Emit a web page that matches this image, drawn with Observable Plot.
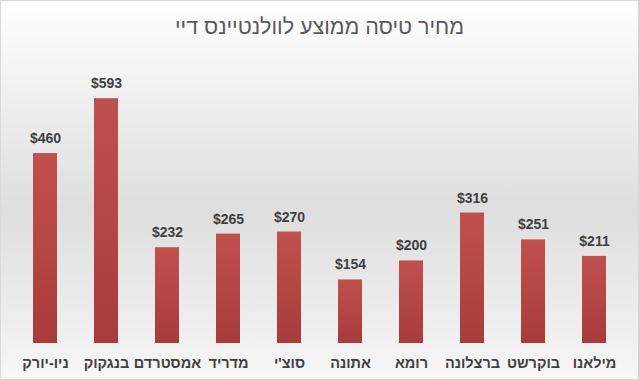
<!DOCTYPE html>
<html><head><meta charset="utf-8">
<script src="https://cdn.jsdelivr.net/npm/d3@7"></script>
<script src="https://cdn.jsdelivr.net/npm/@observablehq/plot@0.6"></script>
<style>
body{margin:0;background:#fff;}
#wrap{width:637px;height:378px;border:1px solid #d9d9d9;position:relative;overflow:hidden;
 background:linear-gradient(to bottom,#ffffff 0%,#f0f0f0 25%,#dedede 55%,#eeeeee 85%,#f7f7f7 100%);
 font-family:"Liberation Sans",Arial,sans-serif;}
#title{height:49px;text-align:center;font-size:21.5px;color:#595959;line-height:52px;direction:rtl;}
</style></head><body>
<div id="wrap"><div id="title">מחיר טיסה ממוצע לוולנטיינס דיי</div><div id="chart"></div></div>
<script>
const cities = ["ניו-יורק","בנגקוק","אמסטרדם","מדריד","סוצ'י","אתונה","רומא","ברצלונה","בוקרשט","מילאנו"];
const prices = [460,593,232,265,270,154,200,316,251,211];
const data = cities.map((c,i)=>({city:c, price:prices[i]}));
const chart = Plot.plot({
  width:637, height:329,
  marginLeft:13.5, marginRight:13.5, marginTop:4, marginBottom:36,
  style:{background:"transparent", fontFamily:"'Liberation Sans',Arial,sans-serif"},
  x:{domain:cities, paddingInner:0.6, paddingOuter:0.3, label:null, axis:null},
  y:{domain:[0,700], axis:null},
  marks:[
    Plot.barY(data,{x:"city", y:"price", fill:"url(#barGrad)"}),
    Plot.text(data,{x:"city", y:"price", text:d=>"$"+d.price, dy:-15, fontWeight:"bold", fontSize:14, fill:"#404040"}),
    Plot.axisX({tickSize:0, tickPadding:14, fontSize:14.5, fontWeight:"bold", fill:"#404040", label:null})
  ]
});
const ns="http://www.w3.org/2000/svg";
const defs=document.createElementNS(ns,"defs");
defs.innerHTML='<linearGradient id="barGrad" x1="0" y1="0" x2="0" y2="1"><stop offset="0" stop-color="#c0504d"/><stop offset="1" stop-color="#a83c3a"/></linearGradient>';
chart.insertBefore(defs, chart.firstChild);
document.getElementById("chart").appendChild(chart);
</script>
</body></html>
